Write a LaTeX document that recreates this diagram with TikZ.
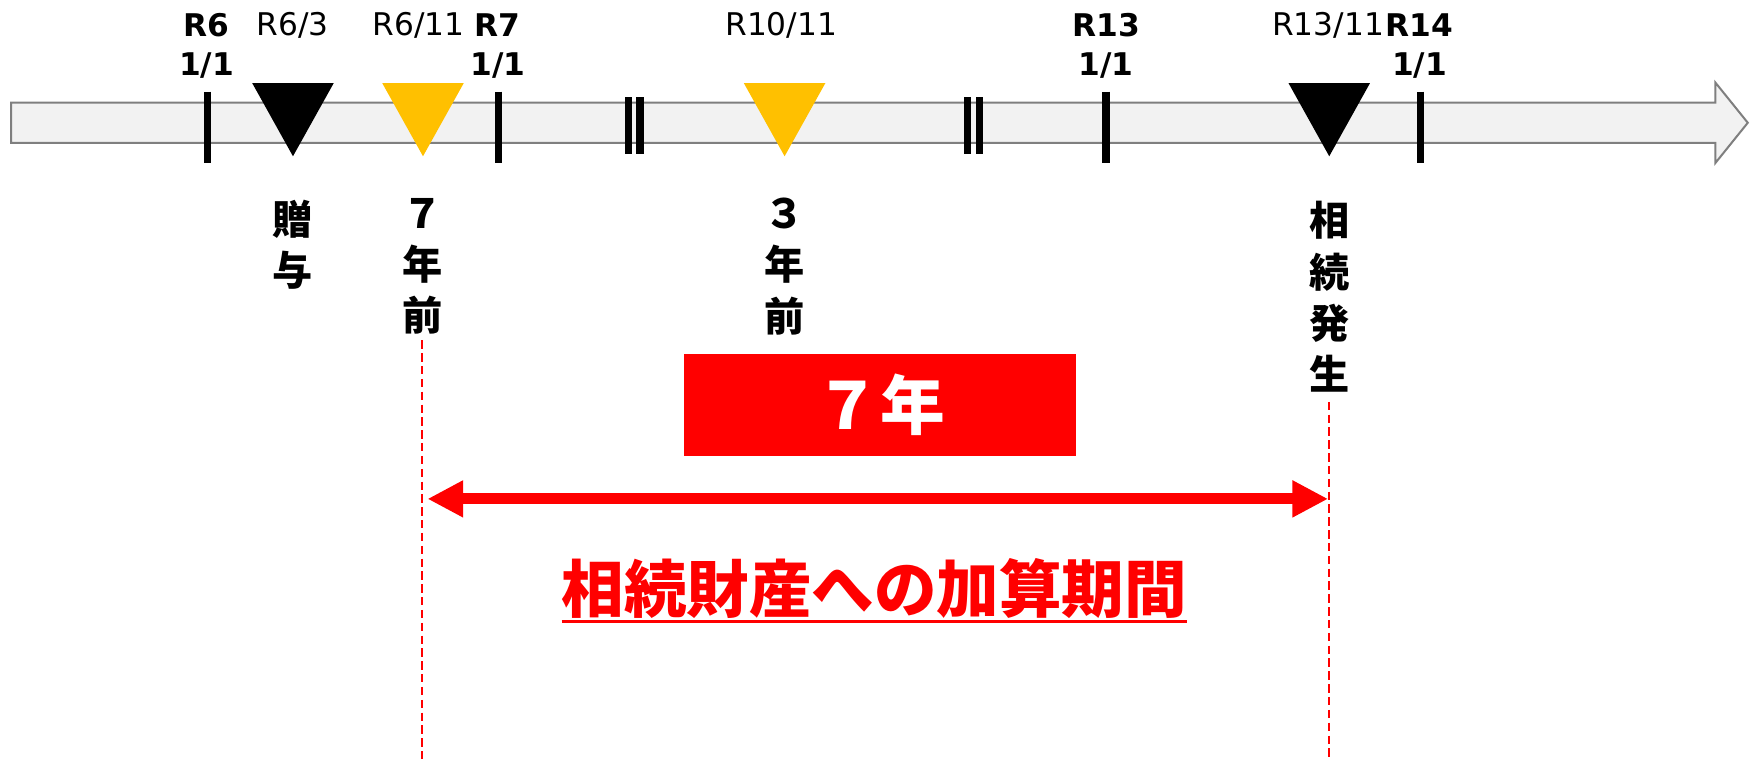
\documentclass[tikz,border=0pt]{standalone}
\usepackage{fontspec}
\setmainfont{DejaVu Sans}
\newfontfamily\jp{Noto Sans CJK JP}
\usetikzlibrary{arrows.meta}
\definecolor{tlfill}{HTML}{F2F2F2}
\definecolor{tlline}{HTML}{7F7F7F}
\definecolor{ylw}{HTML}{FFC000}
\definecolor{rd}{HTML}{FF0000}
\newcommand\mytri[2]{\fill[#1] (#2,74.5) ++(-36.5,0) -- ++(73,0) -- ++(-36.5,65.5) -- cycle;}
\begin{document}
\begin{tikzpicture}[x=0.5pt,y=-0.5pt,
  tickmark/.style={line width=3.2pt},
  dbar/.style={line width=3.3pt},
  datebold/.style={font=\bfseries\fontsize{14}{17}\selectfont, inner sep=0pt, anchor=base},
  datenorm/.style={font=\fontsize{14}{17}\selectfont, inner sep=0pt, anchor=base},
  vlbl/.style={font=\jp\bfseries\fontsize{18}{23}\selectfont, align=center, inner sep=0pt, anchor=north},
  redline/.style={rd, line width=1pt, dash pattern=on 3.75pt off 2pt},
  spanarrow/.style={rd, line width=5pt, {Triangle[length=16pt,width=15.5pt]}-{Triangle[length=16pt,width=15.5pt]}}
]
\useasboundingbox (0,0) rectangle (1568,680);
% timeline arrow
\filldraw[fill=tlfill, draw=tlline, line width=0.9pt, line join=miter]
  (10,92) -- (1537,92) -- (1537,74) -- (1566,110) -- (1537,146) -- (1537,128) -- (10,128) -- cycle;
% ticks
\foreach \x in {186,447,991,1272.5} \draw[tickmark] (\x,82) -- (\x,146);
% break marks
\foreach \x in {563,573.5,867,877.5} \draw[dbar] (\x,87) -- (\x,138);
% triangles
\mytri{black}{262.5}
\mytri{ylw}{379}
\mytri{ylw}{703}
\mytri{black}{1191}
% date labels
\node[datebold] (r6) at (185,33) {R6};
\node[datebold] (r6d) at (185,68) {1/1};
\node[datenorm] (r63) at (262,32) {R6/3};
\node[datenorm] (r611) at (375,32) {R6/11};
\node[datebold] (r7) at (446,33) {R7};
\node[datebold] (r7d) at (446,68) {1/1};
\node[datenorm] (r1011) at (700,32) {R10/11};
\node[datebold] (r13) at (991,33) {R13};
\node[datebold] (r13d) at (991,68) {1/1};
\node[datenorm] (r1311) at (1190,32) {R13/11};
\node[datebold] (r14) at (1272,33) {R14};
\node[datebold] (r14d) at (1272,68) {1/1};
% vertical labels
\node[vlbl] (zoyo) at (262.5,179) {贈\\与};
\node[vlbl] (mae7) at (379,177) {７\\年\\前};
\node[vlbl] (mae3) at (703,177) {３\\年\\前};
\node[vlbl] (souzoku) at (1191,180) {相\\続\\発\\生};
% red box
\node[fill=rd, minimum width=175.5pt, minimum height=46pt, inner sep=0pt,
      text=white, font=\jp\bfseries\fontsize{29}{32}\selectfont] (box7) at (788.5,363) {７年};
% dashed guide lines
\coordinate (l7top) at (378,305);
\coordinate (l7bot) at (378,680);
\coordinate (ldtop) at (1191,360);
\coordinate (ldbot) at (1191,680);
\draw[redline] (l7top) -- (l7bot);
\draw[redline] (ldtop) -- (ldbot);
% double arrow
\coordinate (a7) at (383,447);
\coordinate (ad) at (1190,447);
\draw[spanarrow] (a7) -- (ad);
% period label
\node[rd, inner sep=0pt, anchor=base, font=\jp\bfseries\fontsize{28}{32}\selectfont] (period) at (783.5,549) {相続財産への加算期間};
\draw[rd, line width=1.5pt] ([yshift=-4pt]period.base west) -- ([yshift=-4pt]period.base east);
\end{tikzpicture}
\end{document}
